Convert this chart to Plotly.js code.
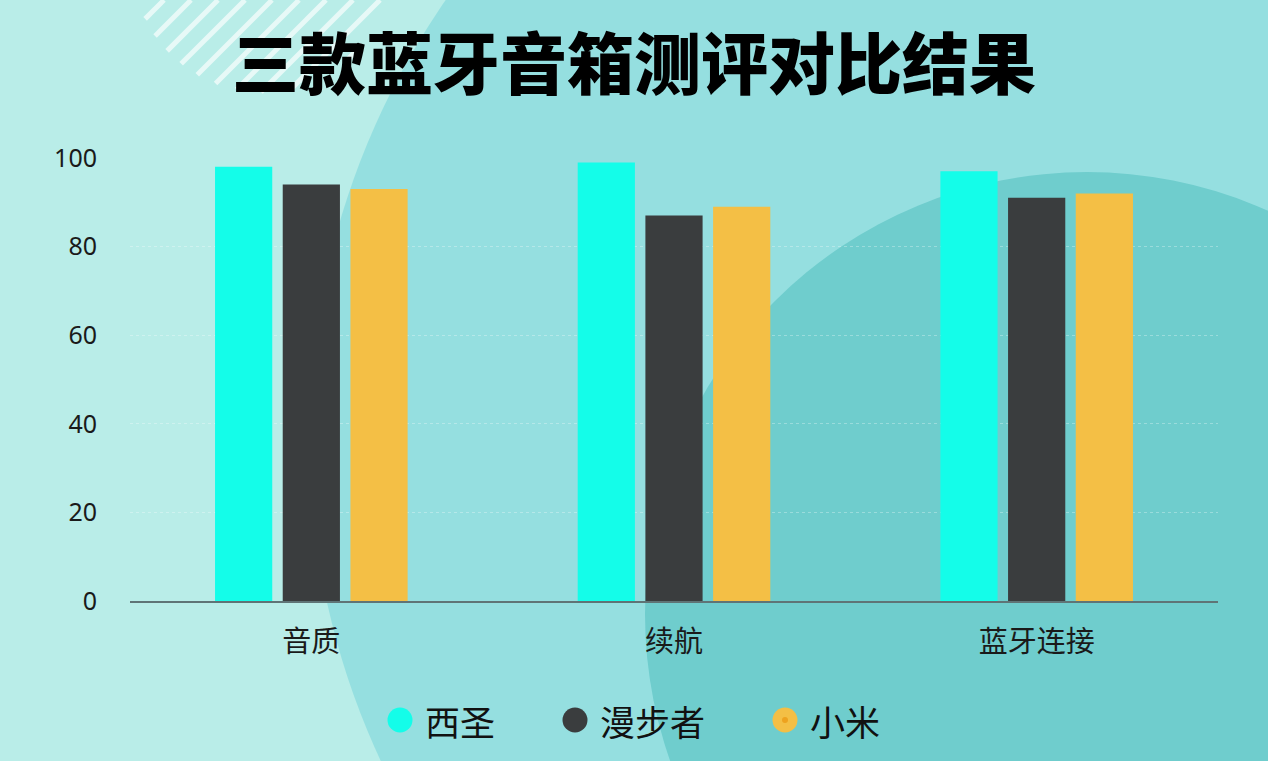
<!DOCTYPE html>
<html>
<head>
<meta charset="utf-8">
<script src="https://cdn.plot.ly/plotly-3.0.1.min.js"></script>
<style>
  html, body { margin: 0; padding: 0; background: #b9ede8; }
  #chart { width: 1268px; height: 761px; }
</style>
</head>
<body>
<div id="chart"></div>
<script>
// Daten
const kategorien = ["音质", "续航", "蓝牙连接"];
const serien = ["西圣", "漫步者", "小米"];
const werteXisheng = [98, 99, 97];
const werteManbuzhe = [94, 87, 91];
const werteXiaomi = [93, 89, 92];
const farben = ["#14fde9", "#3a3d3e", "#f4bf45"];

const W = 1268, H = 761;
const M = { l: 130, r: 50, t: 158, b: 160 };
const plotW = W - M.l - M.r;
const plotH = H - M.t - M.b;

// Pixel -> paper
const px = (x) => (x - M.l) / plotW;
const py = (y) => (H - M.b - y) / plotH;

function kreis(cx, cy, r, farbe) {
  return {
    type: "circle",
    xref: "paper",
    yref: "paper",
    x0: px(cx - r),
    x1: px(cx + r),
    y0: py(cy + r),
    y1: py(cy - r),
    fillcolor: farbe,
    line: { width: 0 },
    layer: "below",
  };
}

// Hintergrund
const shapes = [
  kreis(1076, 437, 767, "#95dfe0"),
  kreis(1087, 614, 442, "#6fcdcd"),
];

// weiße Streifen oben links (45°, in Kreis geschnitten)
const sc = { x: 262, y: -38, r: 130 };
for (let c = 164; c < 410; c += 27) {
  const d = (c - (sc.x + sc.y)) / Math.SQRT2;
  if (Math.abs(d) >= sc.r) break;
  const h = Math.sqrt(sc.r * sc.r - d * d);
  const mx = sc.x + d / Math.SQRT2;
  const my = sc.y + d / Math.SQRT2;
  let x0 = mx - h / Math.SQRT2, y0 = my + h / Math.SQRT2;
  let x1 = mx + h / Math.SQRT2, y1 = my - h / Math.SQRT2;
  if (y0 < 0) continue;
  if (y1 < 0) { x1 = c; y1 = 0; }
  shapes.push({
    type: "line",
    xref: "paper",
    yref: "paper",
    x0: px(x0), y0: py(y0), x1: px(x1), y1: py(y1),
    line: { color: "rgba(255,255,255,0.65)", width: 5 },
    layer: "below",
  });
}

// eigene Legende (runde Marker)
const legX = [400, 575, 785];
const legY = 720;
const annotations = [];
serien.forEach((name, i) => {
  shapes.push(kreis(legX[i], legY, 12.5, farben[i]));
  annotations.push({
    xref: "paper",
    yref: "paper",
    x: px(legX[i] + 23),
    y: py(legY),
    xanchor: "left",
    yanchor: "middle",
    text: name,
    showarrow: false,
    font: { family: "Noto Sans CJK SC", size: 35, color: "#111" },
  });
});
shapes.push(kreis(legX[2], legY, 3, "#eea21f"));

const werte = [werteXisheng, werteManbuzhe, werteXiaomi];
const traces = serien.map((name, i) => ({
  type: "bar",
  name: name,
  x: kategorien,
  y: werte[i],
  marker: { color: farben[i] },
  showlegend: false,
  hoverinfo: "x+y+name",
}));

const layout = {
  width: W,
  height: H,
  margin: M,
  paper_bgcolor: "#b9ede8",
  plot_bgcolor: "rgba(0,0,0,0)",
  barmode: "group",
  bargap: 0.44,
  bargroupgap: 0.155,
  showlegend: false,
  title: {
    text: "三款蓝牙音箱测评对比结果",
    x: 0.5,
    xref: "container",
    y: 1 - 66 / H,
    yref: "container",
    yanchor: "middle",
    font: { family: "Noto Sans CJK SC", size: 67, weight: 900, color: "#000" },
  },
  xaxis: {
    showline: true,
    linecolor: "#5f7476",
    linewidth: 1.5,
    showgrid: false,
    ticks: "",
    ticklabelstandoff: 14,
    tickfont: { family: "Noto Sans CJK SC", size: 29, color: "#1a1a1a" },
  },
  yaxis: {
    range: [0, 100],
    dtick: 20,
    showline: false,
    zeroline: false,
    gridcolor: "rgba(255,255,255,0.3)",
    griddash: "dot",
    gridwidth: 1,
    ticks: "",
    ticklabelstandoff: 32,
    tickfont: { family: "Noto Sans, Noto Sans CJK SC", size: 25, color: "#1a1a1a" },
  },
  shapes: shapes,
  annotations: annotations,
};

Plotly.newPlot("chart", traces, layout, { displayModeBar: false, responsive: false });
</script>
</body>
</html>
